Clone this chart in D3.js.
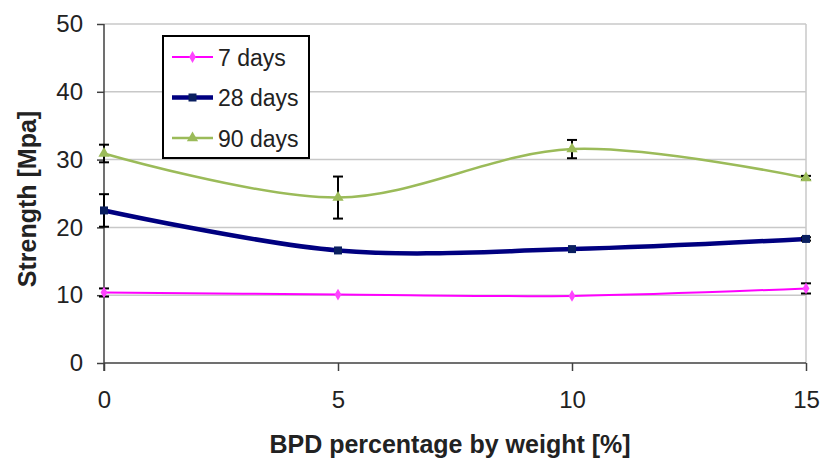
<!DOCTYPE html>
<html>
<head>
<meta charset="utf-8">
<script src="https://cdn.jsdelivr.net/npm/d3@7/dist/d3.min.js"></script>
<style>
  html, body { margin: 0; padding: 0; background: #fff; }
  svg { display: block; font-family: Arial, "Liberation Sans", sans-serif; }
</style>
</head>
<body>
<svg id="chart" width="822" height="459"></svg>
<script>
// BPD content (% by weight)
const bpd = [0, 5, 10, 15];
// Compressive strength (MPa) at each curing age
const days7 = [10.4, 10.1, 9.9, 11.0];
const days28 = [22.5, 16.6, 16.8, 18.3];
const days90 = [30.9, 24.4, 31.55, 27.3];
// Standard deviations (error bars)
const err7 = [0.6, 0, 0, 0.75];
const err28 = [2.4, 0, 0, 0.25];
const err90 = [1.3, 3.1, 1.35, 0.3];
const yTicks = [0, 10, 20, 30, 40, 50];
const xTicks = [0, 5, 10, 15];
const seriesNames = ["7 days", "28 days", "90 days"];

const svg = d3.select("#chart");
const plotL = 104, plotR = 806, plotT = 24, plotB = 363;

const x = d3.scaleLinear().domain([0, 15]).range([plotL, plotR]);
const y = d3.scaleLinear().domain([0, 50]).range([plotB, plotT]);

// horizontal gridlines
svg.append("g").selectAll("line").data(yTicks.filter(d => d > 0)).join("line")
  .attr("x1", plotL).attr("x2", plotR)
  .attr("y1", d => y(d)).attr("y2", d => y(d))
  .attr("stroke", "#c8c8c8").attr("stroke-width", 1.5);
// right edge of plot area
svg.append("line").attr("x1", plotR).attr("x2", plotR)
  .attr("y1", plotT).attr("y2", plotB)
  .attr("stroke", "#c8c8c8").attr("stroke-width", 1.5);

// axes
const yAxis = svg.append("g").attr("transform", `translate(${plotL},0)`)
  .call(d3.axisLeft(y).tickValues(yTicks).tickSize(7).tickPadding(14).tickFormat(d3.format("d")));
const xAxis = svg.append("g").attr("transform", `translate(0,${plotB})`)
  .call(d3.axisBottom(x).tickValues(xTicks).tickSize(8).tickPadding(20).tickFormat(d3.format("d")));
[yAxis, xAxis].forEach(a => {
  a.select(".domain").attr("stroke", "#404040").attr("stroke-width", 1.5);
  a.selectAll(".tick line").attr("stroke", "#404040").attr("stroke-width", 1.5);
  a.selectAll(".tick text").attr("font-size", 24).attr("fill", "#222")
    .attr("font-family", "Arial, 'Liberation Sans', sans-serif");
});
yAxis.select(".domain").attr("d", `M0,${plotT}V${plotB + 8}`);
xAxis.select(".domain").attr("d", `M${plotL},0H${plotR}`);

// axis titles
svg.append("text").attr("x", 450).attr("y", 453).attr("text-anchor", "middle")
  .attr("font-size", 25).attr("font-weight", "bold").attr("fill", "#222")
  .text("BPD percentage by weight [%]");
svg.append("text").attr("transform", "translate(36,199) rotate(-90)")
  .attr("text-anchor", "middle")
  .attr("font-size", 25).attr("font-weight", "bold").attr("fill", "#222")
  .text("Strength [Mpa]");

const series = [
  { name: seriesNames[0], vals: days7, errs: err7, color: "#ff00ff", width: 2, marker: d3.symbolDiamond, msize: 40, mfill: "#ff44ff" },
  { name: seriesNames[1], vals: days28, errs: err28, color: "#000080", width: 4.5, marker: d3.symbolSquare, msize: 64, mfill: "#0a1f60" },
  { name: seriesNames[2], vals: days90, errs: err90, color: "#9bbb59", width: 2.5, marker: d3.symbolTriangle, msize: 55, mfill: "#9bbb59" }
];

const line = d3.line().x(d => x(d[0])).y(d => y(d[1])).curve(d3.curveCardinal.tension(0));

series.forEach(s => {
  const pts = bpd.map((b, i) => [b, s.vals[i], s.errs[i]]);
  const g = svg.append("g");
  g.append("path").datum(pts).attr("d", line)
    .attr("fill", "none").attr("stroke", s.color).attr("stroke-width", s.width);
  // error bars
  const eb = g.selectAll(".eb").data(pts.filter(p => p[2] > 0)).join("g");
  eb.append("line").attr("x1", d => x(d[0])).attr("x2", d => x(d[0]))
    .attr("y1", d => y(d[1] - d[2])).attr("y2", d => y(d[1] + d[2]))
    .attr("stroke", "#000").attr("stroke-width", 2);
  [-1, 1].forEach(sgn => {
    eb.append("line").attr("x1", d => x(d[0]) - 5).attr("x2", d => x(d[0]) + 5)
      .attr("y1", d => y(d[1] + sgn * d[2])).attr("y2", d => y(d[1] + sgn * d[2]))
      .attr("stroke", "#000").attr("stroke-width", 2);
  });
  g.selectAll(".mk").data(pts).join("path")
    .attr("transform", d => `translate(${x(d[0])},${y(d[1])})`)
    .attr("d", d3.symbol(s.marker, s.msize))
    .attr("fill", s.mfill);
});

// legend
const lg = svg.append("g");
lg.append("rect").attr("x", 163).attr("y", 36).attr("width", 146).attr("height", 122)
  .attr("fill", "#fff").attr("stroke", "#000").attr("stroke-width", 2);
series.forEach((s, i) => {
  const cy = 57 + i * 40.5;
  lg.append("line").attr("x1", 172).attr("x2", 213).attr("y1", cy).attr("y2", cy)
    .attr("stroke", s.color).attr("stroke-width", s.width);
  lg.append("path").attr("transform", `translate(192.5,${cy})`)
    .attr("d", d3.symbol(s.marker, s.msize)).attr("fill", s.mfill);
  lg.append("text").attr("x", 218).attr("y", cy + 8.5)
    .attr("font-size", 23).attr("fill", "#222").text(s.name);
});
</script>
</body>
</html>
